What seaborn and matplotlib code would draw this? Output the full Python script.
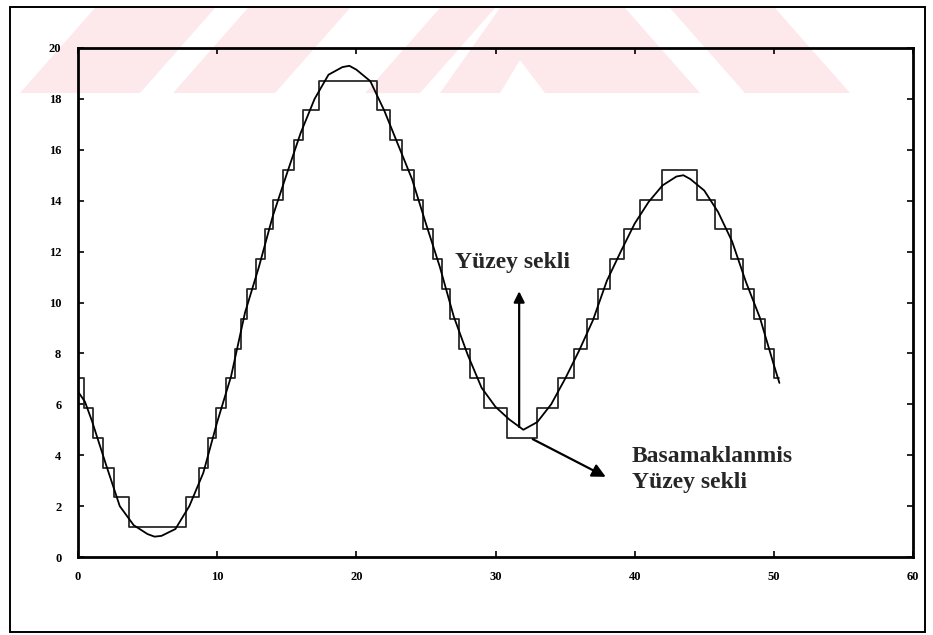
import matplotlib
matplotlib.use("Agg")
import matplotlib.pyplot as plt
import seaborn as sns
import pandas as pd
from matplotlib.patches import Polygon, Rectangle

# ---- data ----
x_surface = [0, 0.5, 1, 2, 3, 4, 5, 5.5, 6, 7, 8, 9, 10, 11, 12, 13, 14, 15, 16, 17, 18,
             19, 19.5, 20, 21, 22, 23, 24, 25, 26, 27, 28, 29, 30, 31, 32, 33, 34, 35,
             36, 37, 38, 39, 40, 41, 42, 43, 43.5, 44, 45, 46, 47, 48, 49, 50, 50.4]
y_surface = [6.5, 6.1, 5.35, 3.65, 2.0, 1.25, 0.9, 0.8, 0.83, 1.1, 2.0, 3.3, 5.3, 7.1, 9.6,
             11.4, 13.4, 15.05, 16.66, 18.0, 18.95, 19.25, 19.3, 19.15, 18.7, 17.55, 16.2,
             14.85, 13.1, 11.4, 9.45, 7.95, 6.65, 5.9, 5.4, 5.0, 5.3, 6.0, 7.0, 8.1, 9.3,
             10.85, 12.0, 13.1, 13.95, 14.6, 14.95, 15.0, 14.85, 14.4, 13.55, 12.4, 10.8,
             9.4, 7.55, 6.84]

step_x = [0, 0.4, 1.1, 1.8, 2.6, 3.65, 7.75, 8.7, 9.35, 9.95, 10.6, 11.25, 11.7, 12.15,
          12.8, 13.45, 14.0, 14.7, 15.55, 16.2, 17.3, 21.45, 22.45, 23.25, 24.15, 24.8,
          25.5, 26.15, 26.75, 27.4, 28.2, 29.2, 30.8, 33.0, 34.5, 35.65, 36.6, 37.35,
          38.25, 39.25, 40.35, 41.95, 44.5, 45.8, 46.95, 47.8, 48.6, 49.35, 50.0, 50.4]
step_y = [7.02, 5.85, 4.68, 3.51, 2.34, 1.17, 2.34, 3.51, 4.68, 5.85, 7.02, 8.19, 9.36,
          10.53, 11.70, 12.87, 14.04, 15.21, 16.38, 17.55, 18.72, 17.55, 16.38, 15.21,
          14.04, 12.87, 11.70, 10.53, 9.36, 8.19, 7.02, 5.85, 4.68, 5.85, 7.02, 8.19,
          9.36, 10.53, 11.70, 12.87, 14.04, 15.21, 14.04, 12.87, 11.70, 10.53, 9.36,
          8.19, 7.02, 7.02]

x_ticks = [0, 10, 20, 30, 40, 50, 60]
y_ticks = [0, 2, 4, 6, 8, 10, 12, 14, 16, 18, 20]

label_surface = "Yüzey sekli"
label_steps = "Basamaklanmis\nYüzey sekli"

# ---- figure ----
sns.set_style("white")
plt.rcParams['font.family'] = ['Liberation Serif', 'DejaVu Serif']

W, H = 933, 635
fig = plt.figure(figsize=(W / 100, H / 100), dpi=100)
fig.patch.set_facecolor("white")

def fx(px):
    return px / W

def fy(py):
    return 1 - py / H

# faint watermark stripes at the top
pink = "#fde8ec"
y_top, y_bot = 8, 93
shift = 75
bands_fwd = [(20, 140), (173, 275), (365, 420)]
for a, b in bands_fwd:
    poly = [(fx(a), fy(y_bot)), (fx(b), fy(y_bot)), (fx(b + shift), fy(y_top)), (fx(a + shift), fy(y_top))]
    fig.patches.append(Polygon(poly, closed=True, transform=fig.transFigure,
                               facecolor=pink, edgecolor="none", zorder=0))
peak = [(fx(440), fy(y_bot)), (fx(500), fy(y_bot)), (fx(520), fy(60)), (fx(545), fy(y_bot)),
        (fx(600), fy(y_bot)), (fx(540), fy(y_top)), (fx(500), fy(y_top))]
fig.patches.append(Polygon(peak, closed=True, transform=fig.transFigure,
                           facecolor=pink, edgecolor="none", zorder=0))
bands_back = [(600, 700), (745, 850)]
for a, b in bands_back:
    poly = [(fx(a), fy(y_bot)), (fx(b), fy(y_bot)), (fx(b - shift), fy(y_top)), (fx(a - shift), fy(y_top))]
    fig.patches.append(Polygon(poly, closed=True, transform=fig.transFigure,
                               facecolor=pink, edgecolor="none", zorder=0))

# outer frame
fig.patches.append(Rectangle((fx(10), fy(632)), fx(925) - fx(10), fy(7) - fy(632),
                             transform=fig.transFigure, fill=False, edgecolor="black",
                             linewidth=1.4, zorder=1))

ax = fig.add_axes([fx(78), fy(557), fx(913) - fx(78), fy(48) - fy(557)])
ax.set_facecolor("none")
ax.set_zorder(5)

df_surface = pd.DataFrame({"x": x_surface, "y": y_surface})
df_steps = pd.DataFrame({"x": step_x, "y": step_y})

sns.lineplot(data=df_steps, x="x", y="y", ax=ax, color="#2a2a2a", linewidth=1.3,
             drawstyle="steps-post", sort=False, estimator=None)
sns.lineplot(data=df_surface, x="x", y="y", ax=ax, color="black", linewidth=1.3,
             sort=False, estimator=None)

ax.set_xlim(0, 60)
ax.set_ylim(0, 20)
ax.set_xticks(x_ticks)
ax.set_yticks(y_ticks)
ax.set_xticklabels([str(v) for v in x_ticks], fontsize=9, fontweight="bold")
ax.set_yticklabels([str(v) for v in y_ticks], fontsize=9, fontweight="bold")
ax.set_xlabel("")
ax.set_ylabel("")
ax.tick_params(axis="both", direction="in", length=4, width=1.2, colors="black",
               top=True, right=True, bottom=True, left=True)
ax.tick_params(axis="x", pad=10)
ax.tick_params(axis="y", pad=12)
for s in ax.spines.values():
    s.set_visible(True)
    s.set_color("black")
    s.set_linewidth(2)

# annotations
ax.text(27.1, 11.36, label_surface, fontsize=17, fontweight="bold", ha="left", va="baseline")
ax.text(39.8, 2.71, label_steps, fontsize=17, fontweight="bold", ha="left", va="baseline",
        linespacing=1.3)
ax.annotate("", xy=(31.7, 10.55), xytext=(31.7, 5.0),
            arrowprops=dict(arrowstyle="-|>", color="black", lw=1.6, mutation_scale=16))
ax.annotate("", xy=(38.1, 3.1), xytext=(32.5, 4.68),
            arrowprops=dict(arrowstyle="-|>", color="black", lw=1.6, mutation_scale=20))

fig.savefig("out.png", dpi=100, facecolor="white")
